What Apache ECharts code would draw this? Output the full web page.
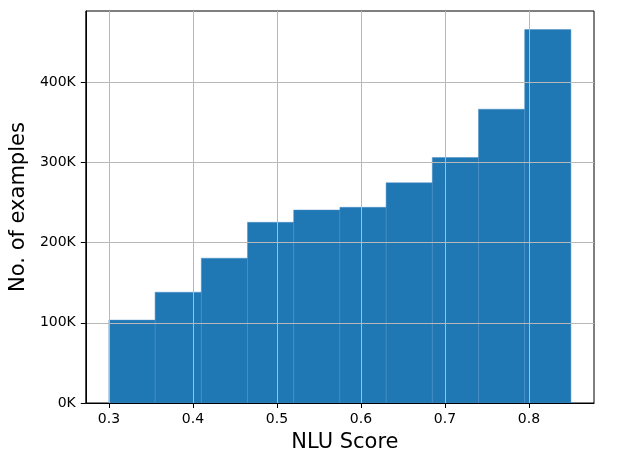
<!DOCTYPE html>
<html><head><meta charset="utf-8">
<script src="https://cdn.jsdelivr.net/npm/echarts@6/dist/echarts.min.js"></script>
<style>html,body{margin:0;padding:0;background:#fff}#c{width:622px;height:465px}</style>
</head><body><div id="c"></div>
<script>
const binEdges = [0.3, 0.355, 0.41, 0.465, 0.52, 0.575, 0.63, 0.685, 0.74, 0.795, 0.85];
const counts = [103400, 138200, 180600, 225400, 240700, 244100, 274700, 306300, 366500, 465800];
const xTicks = [0.3, 0.4, 0.5, 0.6, 0.7, 0.8];
const yTicks = [0, 100000, 200000, 300000, 400000];
const xTitle = 'NLU Score';
const yTitle = 'No. of examples';

const data = counts.map((c, i) => [binEdges[i], binEdges[i + 1], c]);
const font = 'DejaVu Sans';
const chart = echarts.init(document.getElementById('c'), null, {renderer: 'canvas'});
chart.setOption({
  animation: false,
  grid: {left: 84, right: 28, top: 11, bottom: 62, show: true, borderColor: '#000', borderWidth: 1, backgroundColor: 'transparent'},
  xAxis: {
    type: 'value', min: 0.2725, max: 0.8775, z: 5,
    axisLine: {show: true, onZero: false, lineStyle: {color: '#000', width: 1}},
    axisTick: {show: true, customValues: xTicks, length: 5, lineStyle: {color: '#000'}},
    axisLabel: {customValues: xTicks, formatter: v => v.toFixed(1), color: '#000', fontSize: 14, fontFamily: font, margin: 9},
    splitLine: {show: true, lineStyle: {color: '#b8b8b8', width: 1}},
    name: xTitle, nameLocation: 'middle', nameGap: 29,
    nameTextStyle: {fontSize: 21, fontFamily: font, color: '#000', padding: [0, 0, 0, 10]}
  },
  yAxis: {
    type: 'value', min: 0, max: 489000, z: 5,
    axisLine: {show: true, lineStyle: {color: '#000', width: 1}},
    axisTick: {show: true, customValues: yTicks, length: 5, lineStyle: {color: '#000'}},
    axisLabel: {customValues: yTicks, formatter: v => Math.round(v / 1000) + 'K', color: '#000', fontSize: 14, fontFamily: font, margin: 10},
    splitLine: {show: true, lineStyle: {color: '#b8b8b8', width: 1}},
    name: yTitle, nameLocation: 'middle', nameGap: 52,
    nameTextStyle: {fontSize: 21, fontFamily: font, color: '#000'}
  },
  series: [{
    type: 'custom', z: 2,
    encode: {x: [0, 1], y: 2},
    data: data,
    renderItem: function (params, api) {
      const p0 = api.coord([api.value(0), api.value(2)]);
      const p1 = api.coord([api.value(1), 0]);
      return {
        type: 'rect',
        shape: {x: p0[0], y: p0[1], width: p1[0] - p0[0], height: p1[1] - p0[1]},
        style: {fill: '#1f77b4', stroke: '#4a8fc6', lineWidth: 0.5}
      };
    }
  }]
});
</script></body></html>
